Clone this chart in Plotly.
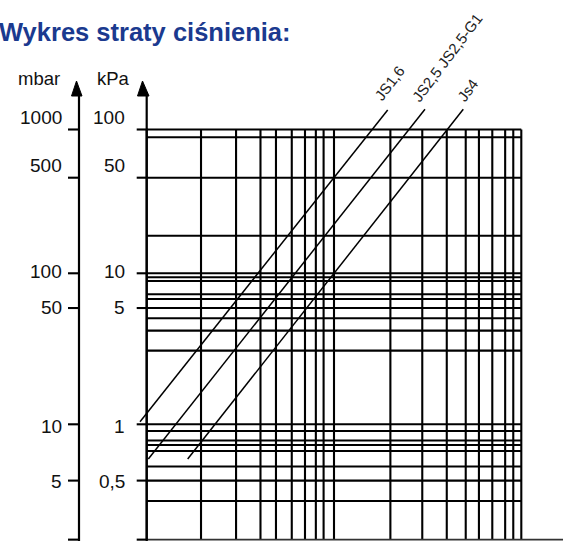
import plotly.graph_objects as go
import math

W, H = 587, 541

# ---------------- data ----------------
# flow axis (log) vertical grid lines
x_grid = [1, 1.95, 3, 4.05, 4.9, 5.95, 7, 8, 8.8, 10, 20, 29.6, 40, 50.5, 59.4, 70, 82, 90.6, 100]
# pressure (kPa, log) horizontal grid lines
y_grid = [100, 88.5, 47.1, 19.0, 10.58, 9.94, 9.38, 7.62, 7.08, 6.15, 5.24, 4.32, 3.16,
          1.0, 0.901, 0.776, 0.724, 0.659, 0.517, 0.415, 0.302]
y_bottom = 0.165
x_axis_end = 167

kpa_tick_vals = [100, 47.1, 10.58, 6.15, 1.0, 0.415]
kpa_tick_text = ["100", "50", "10", "5", "1", "0,5"]
mbar_tick_text = ["1000", "500", "100", "50", "10", "5"]

series_names = ["JS1,6", "JS2,5 JS2,5-G1", "Js4"]
series_x = [[0.921, 19.35], [1.02, 30.6], [1.655, 49.0]]
series_y = [[1.041, 135.6], [0.5815, 137.1], [0.5815, 137.1]]

# ---------------- styles ----------------
label_yshift = [12, 12.5, 1.5, 0.5, -2.5, -0.5]
name_shift = [(1.3, 27), (22, 52), (4, 19)]
FONT = "Liberation Sans, Arial, sans-serif"


def px(x):
    return x / W


def py(y):
    return 1 - y / H


fig = go.Figure()

# vertical grid
vx, vy = [], []
for v in x_grid:
    vx += [v, v, None]
    vy += [y_bottom, y_grid[0], None]
fig.add_trace(go.Scatter(x=vx, y=vy, mode="lines", line=dict(color="black", width=2.1),
                         hoverinfo="skip", showlegend=False))
# horizontal grid
hx, hy = [], []
for v in y_grid:
    hx += [x_grid[0], x_grid[-1], None]
    hy += [v, v, None]
fig.add_trace(go.Scatter(x=hx, y=hy, mode="lines", line=dict(color="black", width=2.1),
                         hoverinfo="skip", showlegend=False))

# characteristic lines
for name, xs, ys, (dx, dy) in zip(series_names, series_x, series_y, name_shift):
    fig.add_trace(go.Scatter(x=xs, y=ys, mode="lines", name=name,
                             line=dict(color="black", width=1.5), showlegend=False))
    fig.add_annotation(x=math.log10(xs[-1]), y=math.log10(ys[-1]), xref="x", yref="y",
                       text=name, showarrow=False, textangle=-53,
                       xanchor="center", yanchor="middle", xshift=dx, yshift=dy,
                       font=dict(family=FONT, size=15, color="#222"))

shapes = []
# bottom axis line
shapes.append(dict(type="line", xref="x", yref="y", x0=x_grid[0], x1=x_axis_end,
                   y0=y_bottom, y1=y_bottom, line=dict(color="#333", width=1.6)))
# mbar axis
shapes.append(dict(type="line", xref="paper", yref="paper", x0=px(79), x1=px(79),
                   y0=py(92), y1=py(541), line=dict(color="black", width=2.2)))
# kPa axis
shapes.append(dict(type="line", xref="x", yref="paper", x0=x_grid[0], x1=x_grid[0],
                   y0=py(92), y1=py(541), line=dict(color="black", width=2.2)))
# arrow heads
for (ax, bl, br) in [(76.5, 71.5, 82), (142.5, 137.5, 149)]:
    shapes.append(dict(type="path", xref="paper", yref="paper",
                       path=f"M {px(ax)},{py(81)} L {px(br)},{py(96)} L {px(bl)},{py(96)} Z",
                       fillcolor="black", line=dict(color="black", width=1)))
# ticks
for v in kpa_tick_vals + [y_bottom]:
    shapes.append(dict(type="line", xref="paper", yref="y", x0=px(68), x1=px(79.5),
                       y0=v, y1=v, line=dict(color="black", width=2.1)))
    shapes.append(dict(type="line", xref="paper", yref="y", x0=px(136.7), x1=px(147.5),
                       y0=v, y1=v, line=dict(color="black", width=2.1)))

# tick labels
for v, tk, tm, ys in zip(kpa_tick_vals, kpa_tick_text, mbar_tick_text, label_yshift):
    fig.add_annotation(xref="paper", yref="y", x=px(63.5), y=math.log10(v), text=tm,
                       showarrow=False, xanchor="right", yanchor="middle", yshift=ys,
                       font=dict(family=FONT, size=19, color="#111"))
    fig.add_annotation(xref="paper", yref="y", x=px(127), y=math.log10(v), text=tk,
                       showarrow=False, xanchor="right", yanchor="middle", yshift=ys,
                       font=dict(family=FONT, size=19, color="#111"))

# unit labels
fig.add_annotation(xref="paper", yref="paper", x=px(38.5), y=py(79), text="mbar",
                   showarrow=False, xanchor="center", yanchor="middle",
                   font=dict(family=FONT, size=18.5, color="#111"))
fig.add_annotation(xref="paper", yref="paper", x=px(113.5), y=py(79), text="kPa",
                   showarrow=False, xanchor="center", yanchor="middle",
                   font=dict(family=FONT, size=18.5, color="#111"))

# title
fig.add_annotation(xref="paper", yref="paper", x=px(-3), y=py(32),
                   text="<b>Wykres straty ciśnienia:</b>", showarrow=False,
                   xanchor="left", yanchor="middle",
                   font=dict(family=FONT, size=25.5, color="#1b3a8f"))

fig.update_layout(
    width=W, height=H,
    margin=dict(l=0, r=0, t=0, b=0),
    paper_bgcolor="white", plot_bgcolor="white",
    shapes=shapes,
    xaxis=dict(type="log", range=[(0 - 146.7) / 187.3, (587 - 146.7) / 187.3],
               visible=False, showgrid=False, zeroline=False, fixedrange=True),
    yaxis=dict(type="log", range=[(424.3 - 541) / 147.4, (424.3 - 0) / 147.4],
               visible=False, showgrid=False, zeroline=False, fixedrange=True),
    showlegend=False,
)

fig.write_html("out.html",
               config={"displayModeBar": False, "staticPlot": True},
               post_script="document.body.style.margin='0';document.body.style.overflow='hidden';")
